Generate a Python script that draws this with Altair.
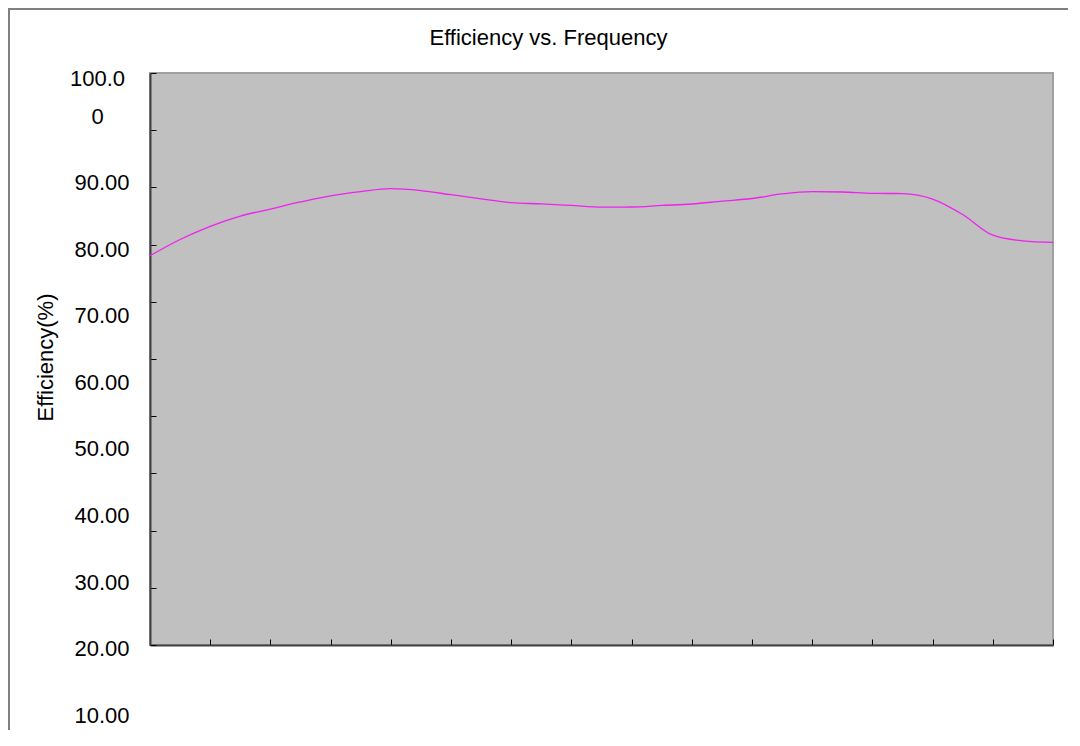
import altair as alt
import pandas as pd

# ---- data ----
title_text = "Efficiency vs. Frequency"
y_title = "Efficiency(%)"
step = list(range(31))
efficiency = [68.06, 70.89, 73.20, 74.98, 76.21, 77.45, 78.53, 79.25, 79.77, 79.44,
              78.72, 78.01, 77.33, 77.12, 76.84, 76.54, 76.57, 76.84, 77.10, 77.59,
              78.06, 78.85, 79.25, 79.20, 78.95, 78.92, 77.97, 75.26, 71.64, 70.65,
              70.38]
y_ticks = [0, 10, 20, 30, 40, 50, 60, 70, 80, 90, 100]
x_ticks = list(range(0, 31, 2))

df = pd.DataFrame({"step": step, "eff": efficiency})
frame_src = pd.DataFrame({"k": [0]})

W, H = 903, 572
FONT = "Liberation Sans"

xs = alt.Scale(domain=[0, 30], nice=False, zero=False)
ys = alt.Scale(domain=[0, 100], nice=False)

is_top = "datum.value === 100"
label_expr = ("datum.value === 100 ? ['100.0', '0'] : "
              "(datum.value === 0 ? '' : format(datum.value, '.2f'))")
label_offset = {"expr": "datum.value === 100 ? 5 : 136.8 - 0.94 * datum.value"}
label_align = {"condition": {"test": is_top, "value": "center"}, "value": "right"}
label_padding = {"condition": {"test": is_top, "value": 53}, "value": 21}

line = alt.Chart(df).mark_line(color="#f020f0", strokeWidth=1.3, interpolate="monotone").encode(
    x=alt.X("step:Q", scale=xs,
            axis=alt.Axis(orient="bottom", labels=False, ticks=False, domain=True,
                          domainColor="#404040", domainWidth=2, grid=False, title=None)),
    y=alt.Y("eff:Q", scale=ys,
            axis=alt.Axis(orient="left", values=y_ticks, ticks=False, domain=True,
                          domainColor="#404040", domainWidth=2, grid=False,
                          labelExpr=label_expr, labelOffset=label_offset,
                          labelPadding=label_padding, labelFont=FONT, labelFontSize=22,
                          labelColor="#000000", labelLineHeight=38, labelOverlap=False,
                          labelBaseline="middle", labelAlign=label_align,
                          title=y_title, titleFont=FONT, titleFontSize=22,
                          titleFontWeight="normal", titleColor="#000000",
                          titleX=-105, titleY=284, titleBaseline="middle",
                          titleAlign="center")),
)

ticks_layer = alt.Chart(df).mark_line(opacity=0, strokeOpacity=0).encode(
    x=alt.X("step:Q", scale=xs,
            axis=alt.Axis(orient="top", offset=-H, values=x_ticks, labels=False,
                          domain=False, ticks=True, tickSize=6, tickColor="#000000",
                          tickWidth=1, grid=False, title=None)),
    y=alt.Y("eff:Q", scale=ys,
            axis=alt.Axis(orient="right", offset=-W, values=y_ticks, labels=False,
                          domain=False, ticks=True, tickSize=6, tickColor="#000000",
                          tickWidth=1, grid=False, title=None)),
)

top_rule = alt.Chart(frame_src).mark_rule(color="#808080", strokeWidth=2).encode(
    x=alt.value(-142), x2=alt.value(930), y=alt.value(-64))
left_rule = alt.Chart(frame_src).mark_rule(color="#808080", strokeWidth=2).encode(
    x=alt.value(-141), y=alt.value(-65), y2=alt.value(700))

chart = alt.layer(top_rule, left_rule, ticks_layer, line).resolve_axis(
    x="independent", y="independent"
).properties(
    width=W, height=H,
    title=alt.Title(text=title_text, font=FONT, fontSize=22, fontWeight="normal",
                    color="#000000", anchor="middle", baseline="alphabetic",
                    offset=-60, dx=-53),
    padding={"left": 142, "top": 65, "right": 15, "bottom": 85},
    autosize=alt.AutoSizeParams(type="none"),
).configure(
    background="#ffffff"
).configure_view(
    fill="#c0c0c0", stroke="#a0a0a0", strokeWidth=2
)

chart.save("out.html", embed_options={"renderer": "svg", "actions": False})
